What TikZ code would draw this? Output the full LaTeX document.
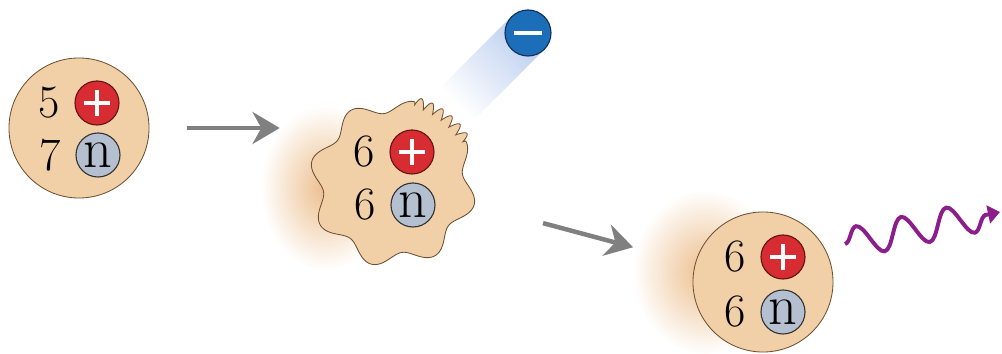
\documentclass[tikz,border=0pt]{standalone}
\usetikzlibrary{arrows.meta, positioning, calc, decorations.pathmorphing, fadings}

\definecolor{nucleustan}{RGB}{241,207,167}
\definecolor{nucleusline}{RGB}{110,80,50}
\definecolor{glowtan}{RGB}{236,190,140}
\definecolor{protonred}{RGB}{214,44,50}
\definecolor{protonline}{RGB}{100,20,20}
\definecolor{neutrongray}{RGB}{180,192,208}
\definecolor{electronblue}{RGB}{28,110,185}
\definecolor{electronline}{RGB}{20,45,90}
\definecolor{trailblue}{RGB}{185,205,238}
\definecolor{arrowgray}{RGB}{128,128,128}
\definecolor{photonpurple}{RGB}{140,30,140}

\tikzfading[name=glowfade, inner color=transparent!0, outer color=transparent!100]
\tikzfading[name=trailfade, left color=transparent!100, right color=transparent!0]

\begin{document}
\begin{tikzpicture}[x=0.025cm, y=0.025cm,
    nucleus/.style = {draw=nucleusline, fill=nucleustan, line width=0.6pt},
    core/.style = {nucleus, circle, minimum size=3.5cm},
    proton/.style = {circle, draw=protonline, fill=protonred, line width=0.8pt, minimum size=1.1cm, inner sep=0pt,
        path picture={\draw[white, line width=3.5pt]
            ([xshift=-0.33cm]path picture bounding box.center) -- ([xshift=0.33cm]path picture bounding box.center)
            ([yshift=-0.33cm]path picture bounding box.center) -- ([yshift=0.33cm]path picture bounding box.center);}},
    neutron/.style = {circle, draw=black!80, fill=neutrongray, line width=0.8pt, minimum size=1.1cm, inner sep=0pt,
        font=\fontsize{40}{40}\selectfont},
    electron/.style = {circle, draw=electronline, fill=electronblue, line width=0.8pt, minimum size=1.15cm, inner sep=0pt,
        path picture={\draw[white, line width=3.5pt]
            ([xshift=-0.36cm]path picture bounding box.center) -- ([xshift=0.36cm]path picture bounding box.center);}},
    count/.style = {inner sep=0pt, font=\fontsize{33}{33}\selectfont},
    flow/.style = {draw=arrowgray, line width=3.2pt, -{Stealth[length=0.68cm, width=0.8cm]}},
    photon/.style = {draw=photonpurple, line width=2.8pt, decorate,
        decoration={snake, segment length=1.15cm, amplitude=0.38cm, post length=0.3cm},
        -{Triangle[length=0.3cm, width=0.45cm]}}]
    \useasboundingbox (0,0) rectangle (1002,354);

    \fill[glowtan, path fading=glowfade] (325,166) ellipse (64 and 82);
    \fill[glowtan, path fading=glowfade] (705,82) ellipse (72 and 82);
    \fill[trailblue, path fading=trailfade, fading angle=45] (512,338) -- (545,305) -- (474,234) -- (441,267) -- cycle;

    \node[core] (N1) at (79,226) {};
    \node[proton] (p1) at (97,251) {};
    \node[neutron] (n1) at (98,199) {n};
    \node[count, left=0.35cm of p1] (c1) {5};
    \node[count, left=0.35cm of n1] (d1) {7};

    \node[circle, minimum size=4cm] (N2) at (393,171) {};
    \draw[nucleus, shift={(N2.center)}] plot[domain=0:359.5, samples=720, variable=\t]
        (\t:{ifthenelse(and(\t>30,\t<75), 79+10*abs(sin(24*(\t-30))), 77+7*cos(8*(\t-30)))}) -- cycle;
    \node[proton] (p2) at (412,202) {};
    \node[neutron] (n2) at (413,149) {n};
    \node[count, left=0.35cm of p2] (c2) {6};
    \node[count, left=0.35cm of n2] (d2) {6};

    \node[electron] (e) at (528,321) {};

    \node[core] (N3) at (763,72) {};
    \node[proton] (p3) at (783,97) {};
    \node[neutron] (n3) at (783,42) {n};
    \node[count, left=0.35cm of p3] (c3) {6};
    \node[count, left=0.35cm of n3] (d3) {6};

    \coordinate (g0) at (845,110);
    \coordinate (g1) at (1000,142);

    \draw[flow] ($(N1.east)+(38,0)$) -- ($(N1.east -| N2.west)+(-33,0)$);
    \draw[flow, shorten <=1.875cm, shorten >=1.6cm] (N2) -- (N3);
    \draw[photon] (g0) -- (g1);
\end{tikzpicture}
\end{document}
